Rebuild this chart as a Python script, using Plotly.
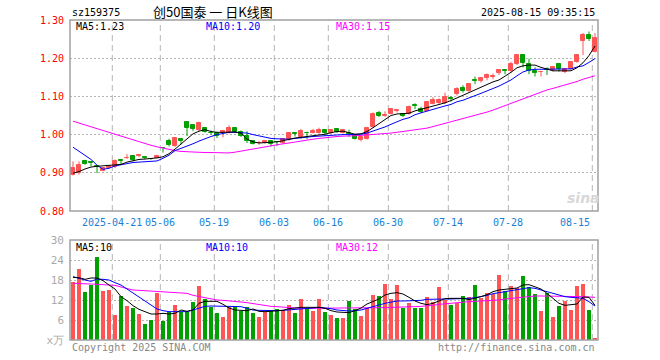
import plotly.graph_objects as go

# ---------------- data ----------------
open_ = [0.895,0.899,0.932,0.927,0.917,0.906,0.912,0.914,0.934,0.939,
         0.943,0.944,0.941,0.937,0.939,0.966,0.982,0.969,0.989,1.034,
         1.026,1.011,1.016,1.005,1.003,1.003,1.004,1.016,1.007,0.996,
         0.984,0.977,0.978,0.982,0.981,0.978,0.989,1.003,0.994,1.005,
         1.004,1.004,1.011,1.004,1.015,1.004,1.004,1.000,0.987,0.989,
         1.019,1.057,1.049,1.055,1.063,1.054,1.053,1.077,1.068,1.062,
         1.081,1.083,1.082,1.096,1.105,1.123,1.114,1.143,1.140,1.147,
         1.150,1.160,1.169,1.167,1.184,1.208,1.184,1.167,1.163,1.172,
         1.169,1.184,1.164,1.173,1.190,1.245,1.261,1.216]
high = [0.930,0.930,0.934,0.928,0.918,0.913,0.920,0.935,0.934,0.949,
        0.946,0.949,0.942,0.938,0.947,0.966,0.989,0.993,0.990,1.035,
        1.027,1.034,1.017,1.011,1.004,1.012,1.024,1.017,1.011,1.009,
        0.985,0.984,0.986,0.983,0.982,0.991,1.006,1.007,1.015,1.008,
        1.015,1.018,1.013,1.015,1.016,1.013,1.013,1.001,0.995,1.019,
        1.058,1.062,1.061,1.067,1.067,1.055,1.076,1.082,1.073,1.087,
        1.098,1.095,1.110,1.100,1.124,1.129,1.133,1.152,1.148,1.160,
        1.160,1.170,1.170,1.190,1.210,1.210,1.199,1.176,1.167,1.176,
        1.176,1.185,1.172,1.192,1.211,1.266,1.270,1.266]
low = [0.893,0.895,0.921,0.917,0.899,0.904,0.910,0.912,0.921,0.936,
       0.930,0.941,0.936,0.934,0.938,0.953,0.969,0.968,0.974,0.996,
       1.009,1.008,1.005,1.000,0.991,0.993,1.003,1.005,0.994,0.978,
       0.974,0.973,0.976,0.969,0.970,0.977,0.984,0.995,0.989,0.988,
       1.003,1.002,0.997,1.002,1.004,1.003,0.994,0.987,0.982,0.987,
       1.018,1.046,1.047,1.053,1.058,1.046,1.052,1.067,1.056,1.060,
       1.079,1.080,1.080,1.087,1.102,1.110,1.112,1.132,1.136,1.142,
       1.145,1.156,1.158,1.162,1.182,1.176,1.158,1.152,1.152,1.156,
       1.165,1.165,1.161,1.170,1.188,1.208,1.245,1.215]
close = [0.912,0.921,0.924,0.925,0.914,0.912,0.918,0.932,0.932,0.940,
         0.934,0.946,0.938,0.936,0.945,0.965,0.972,0.991,0.982,1.017,
         1.015,1.030,1.007,1.004,0.996,1.009,1.016,1.007,0.996,0.984,
         0.976,0.979,0.984,0.976,0.980,0.989,1.004,1.001,1.009,1.003,
         1.009,1.013,1.004,1.012,1.006,1.011,1.002,0.989,0.994,1.016,
         1.055,1.048,1.051,1.066,1.065,1.050,1.073,1.075,1.060,1.086,
         1.090,1.091,1.099,1.094,1.120,1.114,1.132,1.141,1.147,1.156,
         1.153,1.168,1.167,1.184,1.208,1.187,1.167,1.162,1.165,1.170,
         1.176,1.171,1.171,1.190,1.208,1.261,1.251,1.254]

ma5 = [0.899,0.903,0.910,0.915,0.917,0.918,0.918,0.919,0.922,0.928,
       0.932,0.935,0.936,0.937,0.939,0.942,0.950,0.962,0.976,0.990,
       1.002,1.009,1.013,1.008,1.006,1.006,1.006,1.007,1.004,0.988,
       0.981,0.978,0.979,0.980,0.981,0.984,0.988,0.991,0.993,0.995,
       0.996,0.998,1.001,1.005,1.008,1.009,1.006,1.001,1.002,1.008,
       1.018,1.028,1.038,1.050,1.054,1.055,1.056,1.062,1.066,1.070,
       1.074,1.078,1.083,1.089,1.096,1.103,1.109,1.117,1.125,1.132,
       1.138,1.143,1.152,1.163,1.175,1.180,1.182,1.182,1.176,1.171,
       1.167,1.167,1.167,1.167,1.175,1.188,1.207,1.232]
ma10 = [0.967,0.957,0.947,0.935,0.920,0.909,0.912,0.918,0.921,0.924,
        0.927,0.928,0.929,0.930,0.931,0.938,0.946,0.958,0.964,0.968,
        0.976,0.983,0.990,0.995,1.000,1.004,1.006,1.006,1.005,1.004,
        1.000,0.996,0.992,0.990,0.989,0.988,0.988,0.990,0.992,0.994,
        0.995,0.996,0.997,0.999,1.000,1.000,1.000,1.000,1.001,1.004,
        1.009,1.014,1.020,1.027,1.034,1.040,1.044,1.052,1.057,1.062,
        1.066,1.071,1.075,1.079,1.086,1.090,1.095,1.102,1.108,1.114,
        1.121,1.127,1.135,1.143,1.154,1.164,1.169,1.171,1.171,1.171,
        1.171,1.171,1.171,1.172,1.177,1.180,1.189,1.199]
ma30 = [1.035,1.030,1.025,1.020,1.015,1.010,1.005,1.000,0.995,0.990,
        0.985,0.981,0.976,0.972,0.968,0.964,0.961,0.958,0.956,0.955,
        0.954,0.954,0.953,0.953,0.953,0.952,0.952,0.954,0.957,0.960,
        0.963,0.966,0.968,0.971,0.974,0.976,0.978,0.981,0.983,0.986,
        0.988,0.990,0.992,0.994,0.995,0.996,0.996,0.997,0.998,0.999,
        1.000,1.001,1.002,1.004,1.006,1.008,1.009,1.011,1.014,1.017,
        1.021,1.025,1.030,1.034,1.038,1.042,1.046,1.049,1.054,1.059,
        1.064,1.070,1.077,1.083,1.088,1.094,1.100,1.106,1.112,1.117,
        1.121,1.125,1.129,1.134,1.139,1.145,1.150,1.154]

volume = [17.5,21.3,14.5,16.4,25.0,14.7,15.0,7.5,13.2,10.2,
          9.7,7.8,4.8,6.0,14.2,5.8,8.5,10.5,8.5,8.5,
          11.5,16.2,12.3,10.0,8.2,7.0,10.0,10.0,8.8,10.0,
          8.2,7.0,8.5,9.0,9.3,9.0,10.5,8.2,12.3,9.7,
          8.8,12.3,8.5,7.5,6.7,6.7,11.8,9.2,7.3,9.7,
          13.5,13.2,16.8,12.3,16.5,9.7,11.1,9.7,9.7,12.9,
          11.5,15.9,12.0,10.5,11.1,13.2,12.9,16.5,12.6,14.2,
          13.7,19.5,14.7,16.2,15.6,19.2,16.0,13.9,8.7,14.2,
          6.9,10.2,11.7,9.0,16.2,16.9,9.0,0.7]
vma5 = [18.8,18.7,18.2,18.6,18.6,17.8,16.5,15.3,13.0,11.8,
        10.3,9.2,8.5,7.8,7.8,8.0,7.8,8.0,9.0,8.6,
        9.0,11.0,11.6,11.7,11.6,10.7,9.6,9.0,8.9,8.8,
        9.3,8.6,8.5,8.6,8.7,8.9,9.4,9.7,9.8,9.8,
        9.8,9.8,9.5,8.8,8.4,8.2,8.2,8.8,9.6,10.8,
        11.6,12.3,13.5,14.0,14.2,13.8,12.8,11.7,11.0,10.6,
        11.0,11.6,12.4,12.5,12.5,12.5,12.1,12.5,13.0,13.6,
        14.5,15.0,15.3,15.4,15.6,16.5,16.6,15.9,15.3,14.0,
        12.5,11.0,10.4,10.7,10.8,12.9,12.8,10.4]
vma10 = [19.0,18.4,18.0,17.6,18.3,18.2,18.0,17.2,16.5,15.3,
         14.0,12.9,11.7,10.6,9.3,8.8,8.5,8.5,8.5,8.5,
         9.0,9.5,10.1,10.2,10.2,10.2,10.2,10.1,10.0,9.5,
         9.0,8.9,8.8,8.8,8.8,8.9,9.0,9.2,9.4,9.5,
         9.6,9.8,9.7,9.4,9.0,8.8,8.7,8.8,9.0,9.5,
         10.1,10.5,11.0,11.4,11.7,11.7,11.7,11.7,11.9,12.2,
         12.3,12.3,12.3,12.3,12.3,12.3,12.5,12.7,13.0,13.4,
         13.9,14.2,14.6,15.0,15.3,15.5,15.7,15.5,15.0,14.5,
         14.0,13.4,13.0,12.8,12.6,12.5,11.5,10.2]
vma30 = [17.0,17.0,16.9,16.8,16.7,16.6,16.5,16.4,15.9,15.4,
         15.0,14.9,14.8,14.8,14.7,14.6,14.5,14.4,14.3,14.0,
         13.4,13.0,12.6,12.3,12.0,11.9,11.8,11.6,11.4,11.2,
         10.9,10.6,10.3,10.1,10.0,9.8,9.7,9.6,9.5,9.5,
         9.5,9.5,9.5,9.5,9.5,9.5,9.5,9.5,9.5,9.6,
         9.6,9.7,9.7,9.8,9.8,9.9,10.0,10.0,10.1,10.2,
         10.4,10.7,10.9,11.1,11.3,11.4,11.5,11.6,11.7,11.8,
         11.8,12.0,12.3,12.5,12.8,13.0,13.2,13.2,13.2,13.2,
         13.2,13.2,13.1,13.1,13.0,13.0,12.9,12.8]

tick_index = [7, 15, 24, 34, 43, 53, 63, 73, 87]
tick_labels = ["2025-04-21", "05-06", "05-19", "06-03", "06-16",
               "06-30", "07-14", "07-28", "08-15"]
price_ticks = [0.80, 0.90, 1.00, 1.10, 1.20, 1.30]
vol_ticks = [0, 6, 12, 18, 24, 30]
vol_tick_text = ["x万", "6", "12", "18", "24", "30"]
price_legend = ["MA5:1.23", "MA10:1.20", "MA30:1.15"]
vol_legend = ["MA5:10", "MA10:10", "MA30:12"]

# ---------------- styling ----------------
RED = "#ff5555"
GREEN = "#00a000"
GRID = "#b4b4b4"
FRAME = "#a0a0a0"
MONO = "DejaVu Sans Mono"
W, H = 660, 360
L, R, T, B = 70, 598, 20, 340


def xp(px):
    return (px - L) / (R - L)


def yp(py):
    return (B - py) / (B - T)


n = len(close)
xs = list(range(n))
up = [c >= o for o, c in zip(open_, close)]
colors = [RED if u else GREEN for u in up]

fig = go.Figure()

# wicks
for flag, col in ((True, RED), (False, GREEN)):
    wx, wy = [], []
    for i in xs:
        if up[i] == flag:
            wx += [i, i, None]
            wy += [low[i], high[i], None]
    fig.add_trace(go.Scatter(x=wx, y=wy, mode="lines", line=dict(color=col, width=1),
                             hoverinfo="skip", showlegend=False, xaxis="x", yaxis="y"))

# bodies
base = [min(o, c) for o, c in zip(open_, close)]
hgt = [abs(c - o) for o, c in zip(open_, close)]
fig.add_trace(go.Bar(x=xs, y=hgt, base=base, width=0.68,
                     marker=dict(color=colors, line=dict(color=colors, width=1)),
                     hoverinfo="skip", showlegend=False, xaxis="x", yaxis="y"))

for arr, col in ((ma30, "#ff00ff"), (ma10, "#0000ff"), (ma5, "#000000")):
    fig.add_trace(go.Scatter(x=xs, y=arr, mode="lines", line=dict(color=col, width=1),
                             hoverinfo="skip", showlegend=False, xaxis="x", yaxis="y"))

# volume
fig.add_trace(go.Bar(x=xs, y=volume, width=0.82, marker=dict(color=colors, line=dict(width=0)),
                     hoverinfo="skip", showlegend=False, xaxis="x2", yaxis="y2"))
for arr, col in ((vma30, "#ff00ff"), (vma10, "#0000ff"), (vma5, "#000000")):
    fig.add_trace(go.Scatter(x=xs, y=arr, mode="lines", line=dict(color=col, width=1),
                             hoverinfo="skip", showlegend=False, xaxis="x2", yaxis="y2"))

shapes = []
for ti in tick_index:
    for yr in ("y domain", "y2 domain"):
        shapes.append(dict(type="line", xref="x", yref=yr, x0=ti - 0.45, x1=ti - 0.45,
                           y0=0, y1=1, line=dict(color=GRID, width=1, dash="6px,4px"), layer="below"))
for yr in ("y domain", "y2 domain"):
    shapes.append(dict(type="rect", xref="x domain", yref=yr, x0=0, x1=1, y0=0, y1=1,
                       line=dict(color=FRAME, width=1.5), layer="above"))

price_dom = [yp(211), 1.0]
vol_dom = [0.0, yp(240)]

fig.update_layout(
    width=W, height=H,
    margin=dict(l=L, r=W - R, t=T, b=H - B, autoexpand=False),
    paper_bgcolor="white", plot_bgcolor="white",
    barmode="overlay", bargap=0,
    showlegend=False,
    shapes=shapes,
    xaxis=dict(domain=[0, 1], range=[-0.5, n - 0.5], showticklabels=False, showgrid=False,
               zeroline=False, anchor="y", fixedrange=True, automargin=False),
    xaxis2=dict(domain=[0, 1], range=[-0.5, n - 0.5], showticklabels=False, showgrid=False,
                zeroline=False, anchor="y2", matches="x", fixedrange=True, automargin=False),
    yaxis=dict(domain=price_dom, range=[0.80, 1.30], tickvals=price_ticks,
               ticktext=["%.2f" % v for v in price_ticks],
               tickfont=dict(family=MONO, size=10, color="#ff0000"),
               showgrid=True, gridcolor=GRID, griddash="2px,2px", gridwidth=1,
               zeroline=False, ticks="", ticklabelstandoff=5, anchor="x", fixedrange=True,
               automargin=False),
    yaxis2=dict(domain=vol_dom, range=[0, 30], tickvals=vol_ticks, ticktext=vol_tick_text,
                tickfont=dict(family=MONO, size=11, color="#aaaaaa"),
                showgrid=True, gridcolor=GRID, griddash="2px,2px", gridwidth=1,
                zeroline=False, ticks="", ticklabelstandoff=5, anchor="x2", fixedrange=True,
                automargin=False),
)

ann = []


def text(px, py, s, color="#000", size=10, anchor="left", family=MONO):
    ann.append(dict(x=xp(px), y=yp(py), xref="paper", yref="paper", text=s, showarrow=False,
                    xanchor=anchor, yanchor="middle",
                    font=dict(family=family, size=size, color=color)))


text(70, 12, "sz159375")
text(213, 11, "创50国泰 一 日K线图", size=13, anchor="center", family="Noto Sans CJK SC")
text(597, 12, "2025-08-15 09:35:15", anchor="right")

for px, s, c in zip((74, 204, 334), price_legend, ("#000000", "#0000ff", "#ff00ff")):
    text(px, 27, s, color=c)
for px, s, c in zip((74, 204, 334), vol_legend, ("#000000", "#0000ff", "#ff00ff")):
    text(px, 247, s, color=c)

for ti, lab in zip(tick_index, tick_labels):
    gx = L + (ti - 0.45 + 0.5) * (R - L) / n
    text(gx, 222, lab, color="#1a7fd4", anchor="right" if ti == tick_index[-1] else "center")

text(70, 347, "Copyright 2025 SINA.COM", color="#888888")
text(597, 347, "http://finance.sina.com.cn", color="#888888", anchor="right")
text(583, 198, "<b><i>sina</i></b>", color="#d8d8d8", size=14, family="DejaVu Sans", anchor="center")

fig.update_layout(annotations=ann)

fig.write_html("out.html", config={"displayModeBar": False},
               post_script="document.body.style.margin='0';document.body.style.padding='0';")
